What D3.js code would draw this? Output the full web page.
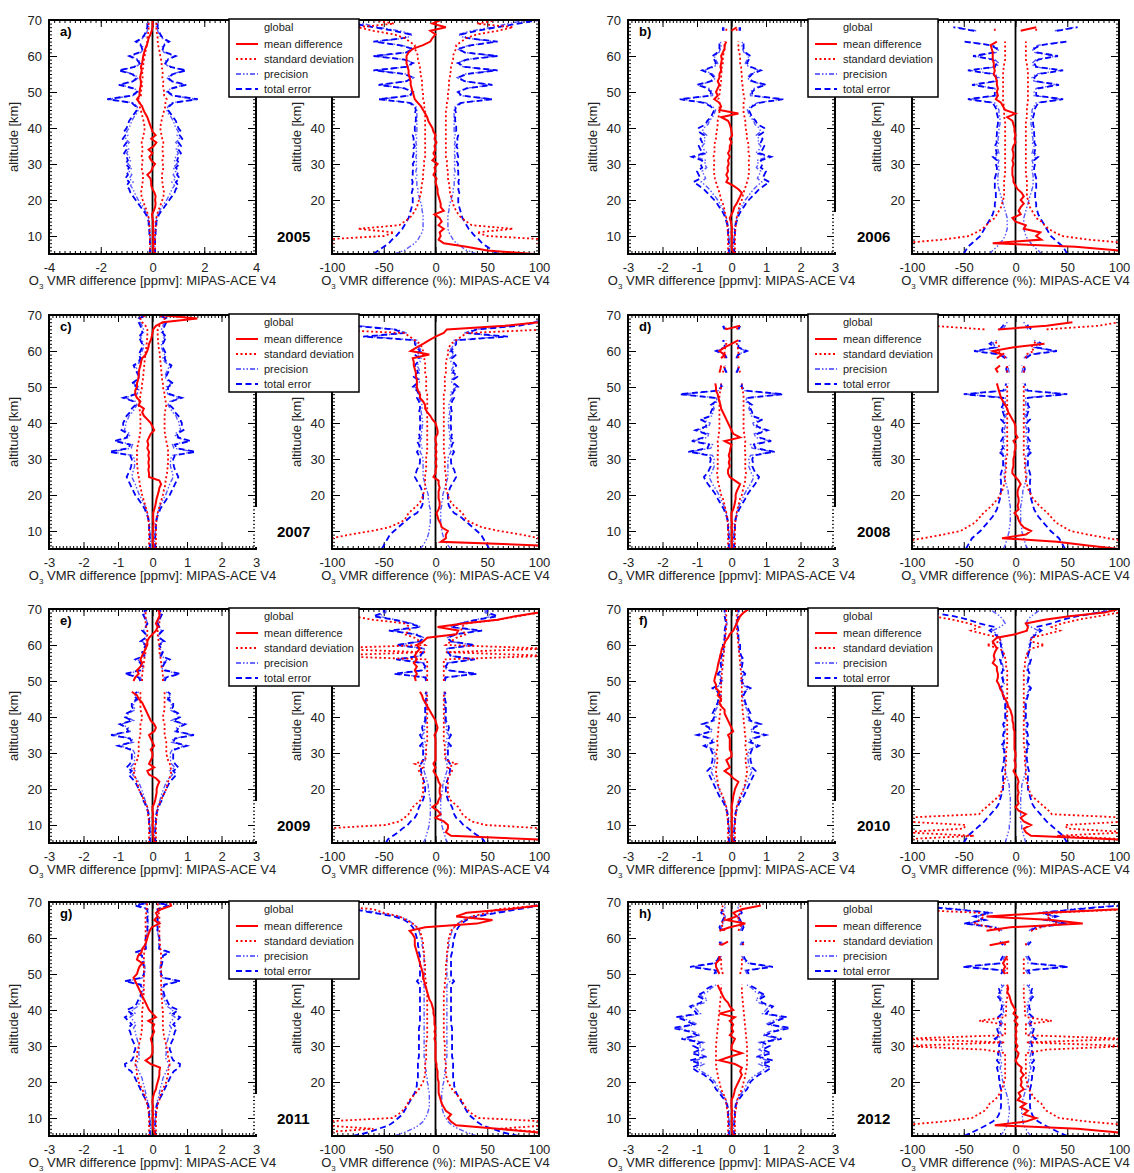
<!DOCTYPE html>
<html><head><meta charset="utf-8">
<script src="https://cdn.jsdelivr.net/npm/d3@7"></script>
<style>body{margin:0;background:#fff}svg{display:block}</style>
</head><body><svg id="chart" width="1134" height="1173"></svg>
<script>
// ---------------- DATA ----------------
const altitudes = [5,6,7,8,9,10,11,12,13,14,15,16,17,18,19,20,21,22,23,24,25,26,27,28,29,30,31,32,33,34,35,36,37,38,39,40,41,42,43,44,45,46,47,48,49,50,51,52,53,54,55,56,57,58,59,60,61,62,63,64,65,66,67,68,69,70];
const panelLetters = ["a)","b)","c)","d)","e)","f)","g)","h)"];
const panelYears = ["2005","2006","2007","2008","2009","2010","2011","2012"];
const absLimits = [4,3,3,3,3,3,3,3];
const absTicksWide = [-4,-2,0,2,4];
const absTicksNarrow = [-3,-2,-1,0,1,2,3];
const relTicks = [-100,-50,0,50,100];
const altTicks = [10,20,30,40,50,60,70];
const altTicksVisibleRight = [20,30,40];
const legendLabels = ["mean difference","standard deviation","precision","total error"];

// panel a (2005)
const aAbsMean=[0.05,0.03,0.02,0.02,0.03,0.02,0.03,0.02,0.02,0.03, 0,-0.02,0.05,0.1,0.12,0.1,0.12,0.08,0,-0.05, -0.05,-0.08,-0.2,-0.05,0,0.1,-0.05,-0.12,0,-0.15, 0.05,0.15,-0.05,0.12,0,-0.05,-0.1,-0.15,-0.2,-0.28, -0.35,-0.4,-0.5,-0.6,-0.5,-0.5,-0.48,-0.45,-0.45,-0.48, -0.45,-0.42,-0.45,-0.4,-0.38,-0.36,-0.32,-0.28,-0.22,-0.18, -0.15,-0.08,-0.03,0,0,0];
const aAbsStd=[0.1,0.1,0.1,0.1,0.1,0.1,0.1,0.12,0.12,0.13, 0.15,0.18,0.22,0.28,0.33,0.38,0.42,0.45,0.42,0.4, 0.38,0.37,0.36,0.4,0.42,0.4,0.38,0.42,0.4,0.38, 0.4,0.42,0.38,0.35,0.32,0.3,0.32,0.35,0.38,0.42, 0.45,0.5,0.5,0.55,0.45,0.45,0.42,0.4,0.42,0.38, 0.4,0.38,0.36,0.35,0.33,0.3,0.28,0.25,0.22,0.2, 0.2,0.18,0.15,0.15,0.15,0.15];
const aAbsPrec=[0.08,0.08,0.08,0.08,0.08,0.1,0.1,0.1,0.12,0.12, 0.15,0.2,0.28,0.35,0.45,0.55,0.62,0.7,0.75,0.85, 0.75,0.9,0.8,0.9,0.8,0.95,0.85,0.9,1.0,0.9, 1.0,0.9,1.05,0.95,1.0,0.9,0.85,0.8,0.72,0.62, 0.55,0.6,0.75,1.7,0.75,0.55,0.7,1.25,0.7,0.55, 0.75,1.25,0.65,0.45,0.55,0.85,0.45,0.35,0.4,0.6, 0.35,0.25,0.2,0.15,0.15,0.12];
const aAbsTot=[0.1,0.1,0.1,0.1,0.1,0.12,0.12,0.13,0.15,0.15, 0.2,0.25,0.35,0.45,0.55,0.65,0.75,0.85,0.9,1.0, 0.9,1.05,0.95,1.0,0.9,1.05,0.95,1.0,1.1,1.0, 1.1,1.0,1.15,1.05,1.1,1.0,0.95,0.9,0.8,0.7, 0.6,0.65,0.8,1.75,0.8,0.6,0.75,1.3,0.75,0.6, 0.8,1.3,0.7,0.5,0.6,0.9,0.5,0.4,0.45,0.65, 0.4,0.3,0.25,0.2,0.2,0.15];
const aRelMean=[95,50,30,8,3,5,4,8,3,6, 4,-1,8,5,5,4,3,2,2,1, 0,1,-2,0,-1,2,-3,0,-2,0, -1,1,-1,0,-2,-3,-5,-7,-8,-10, -12,-14,-17,-20,-21,-22,-23,-24,-24,-25, -26,-26,-27,-28,-28,-28,-26,-22,-12,-5, -3,0,-5,10,-3,5];
const aRelStd=[110,110,110,100,110,50,40,75,35,30, 25,22,20,18,17,16,15,14,14,13, 13,12,12,12,11,11,11,10,10,10, 10,10,10,10,10,10,10,10,10,10, 10,11,11,12,12,12,13,13,13,14, 14,15,15,16,17,17,18,20,20,25, 30,40,60,75,40,60];
const aRelPrec=[40,30,25,20,17,15,13,12,12,12, 12,12,13,13,14,15,16,17,17,18, 18,19,18,19,18,19,18,19,18,19, 18,19,18,19,18,18,18,18,18,18, 18,19,24,54,24,21,29,54,27,21, 29,58,27,21,29,58,27,21,33,58, 28,22,35,55,70,90];
const aRelTot=[60,55,50,45,42,38,35,32,30,28, 26,25,24,23,22,22,22,23,22,23, 22,23,22,22,21,22,20,22,21,22, 20,22,21,22,20,20,20,19,19,20, 19,20,25,55,25,22,30,55,28,22, 30,60,28,22,30,60,28,22,35,60, 30,25,40,60,80,100];

// panel b (2006)
const bAbsMean=[0.1,0.02,0,0.02,0,0.02,0,0.02,0,-0.02, -0.05,0,0.05,0.08,0.15,0.2,0.25,0.3,0.2,0.05, -0.15,-0.1,-0.15,-0.1,-0.12,-0.08,-0.1,-0.05,-0.1,-0.05, -0.05,0,-0.05,0.02,0,-0.02,-0.05,-0.1,-0.3,0.2, -0.35,-0.3,-0.35,-0.5,-0.4,-0.45,-0.4,-0.35,-0.4,-0.35, -0.35,-0.3,-0.32,-0.3,-0.28,-0.3,-0.25,-0.2,-0.2,-0.15, null,null,0.0,0.15,null,null];
const bAbsStd=[0.1,0.1,0.1,0.1,0.1,0.1,0.1,0.12,0.12,0.13, 0.15,0.18,0.2,0.22,0.25,0.3,0.32,0.35,0.38,0.42, 0.45,0.48,0.5,0.5,0.52,0.5,0.5,0.52,0.5,0.48, 0.5,0.48,0.45,0.45,0.42,0.42,0.4,0.4,0.38,0.35, 0.35,0.35,0.35,0.38,0.35,0.35,0.32,0.32,0.3,0.3, 0.3,0.28,0.28,0.25,0.25,0.25,0.22,0.2,0.2,0.2, null,null,0.15,0.15,null,null];
const bAbsPrec=[0.06,0.06,0.06,0.06,0.07,0.08,0.08,0.08,0.1,0.12, 0.15,0.18,0.22,0.28,0.34,0.4,0.48,0.56,0.64,0.75, 0.88,0.75,0.8,0.85,0.72,0.78,0.74,1.05,0.7,0.8, 0.85,0.76,0.8,0.72,0.85,0.8,0.68,0.64,0.55,0.5, 0.46,0.55,0.75,1.45,0.55,0.55,0.65,0.95,0.55,0.46, 0.55,0.8,0.5,0.4,0.46,0.5,0.36,0.32,0.3,0.32, null,null,0.22,0.22,null,null];
const bAbsTot=[0.08,0.08,0.08,0.08,0.08,0.1,0.1,0.1,0.12,0.15, 0.18,0.22,0.28,0.35,0.42,0.5,0.6,0.7,0.8,0.95, 1.1,0.9,0.95,1.0,0.85,0.9,0.85,1.15,0.8,0.9, 0.95,0.85,0.9,0.8,0.95,0.95,0.75,0.7,0.6,0.55, 0.5,0.6,0.8,1.5,0.6,0.6,0.7,1.0,0.6,0.5, 0.6,0.85,0.55,0.45,0.5,0.55,0.4,0.35,0.35,0.35, null,null,0.25,0.25,null,null];
const bRelMean=[100,100,58,-22,25,20,24,8,10,0, -3,5,3,5,8,5,8,6,2,0, -2,-2,-3,-3,-3,-2,-3,-2,-2,-3, -2,0,-1,0,-1,-1,-2,-3,-8,0, -10,-12,-14,-19,-17,-18,-17,-18,-18,-19, -21,-20,-21,-21,-22,-22,-22,-23,-24,-18, null,null,5,20,null,null];
const bRelStd=[110,110,110,110,70,45,38,32,28,25, 20,18,16,14,13,12,11,11,11,11, 11,11,10,10,10,10,10,10,10,10, 10,10,10,10,10,10,10,10,11,11, 11,11,12,12,12,12,12,12,12,12, 12,12,11,11,10,10,10,10,10,10, null,null,20,20,null,null];
const bRelPrec=[25,22,18,15,12,10,9,8,8,8, 8,9,10,11,12,13,14,15,16,17, 17,17,17,16,16,17,16,20,16,17, 18,16,17,16,16,16,15,15,15,16, 16,18,20,44,18,18,20,40,18,16, 20,44,18,16,20,39,18,16,22,48, null,null,38,58,null,null];
const bRelTot=[50,48,46,42,38,34,32,30,28,26, 24,22,21,20,20,19,19,19,20,20, 20,20,19,18,18,19,18,22,18,19, 20,18,19,18,18,18,17,17,17,18, 18,20,22,46,20,20,22,42,20,18, 22,46,20,18,22,41,20,18,24,50, null,null,40,60,null,null];

// panel c (2007)
const cAbsMean=[0.02,0.03,0,0.02,0,0.02,0.02,0.03,0.02,0.02, 0.02,0.05,0.08,0.1,0.12,0.15,0.18,0.2,0.25,0.2, -0.1,-0.1,-0.12,-0.1,-0.12,-0.1,-0.12,-0.1,-0.15,-0.12, -0.15,-0.1,-0.05,0.05,0,-0.05,-0.15,-0.25,-0.3,-0.25, -0.4,-0.35,-0.45,-0.5,-0.5,-0.45,-0.45,-0.42,-0.4,-0.4, -0.38,-0.35,-0.33,-0.3,-0.2,-0.15,-0.12,-0.1,-0.05,-0.02, 0,0.02,0.1,0.3,1.3,0.2];
const cAbsStd=[0.1,0.1,0.1,0.1,0.1,0.1,0.1,0.1,0.12,0.13, 0.15,0.18,0.2,0.24,0.27,0.3,0.32,0.35,0.37,0.38, 0.4,0.42,0.43,0.44,0.45,0.45,0.45,0.45,0.45,0.42, 0.4,0.38,0.36,0.35,0.35,0.35,0.35,0.35,0.36,0.38, 0.4,0.38,0.36,0.35,0.33,0.3,0.3,0.28,0.27,0.26, 0.25,0.24,0.23,0.22,0.21,0.2,0.18,0.17,0.16,0.15, 0.15,0.15,0.2,0.3,0.35,0.2];
const cAbsPrec=[0.06,0.06,0.06,0.06,0.07,0.08,0.08,0.08,0.1,0.12, 0.15,0.18,0.22,0.27,0.32,0.38,0.42,0.46,0.5,0.55, 0.6,0.58,0.55,0.52,0.52,0.52,0.58,1.2,0.62,0.58, 1.05,0.68,0.65,0.82,0.78,0.78,0.72,0.68,0.58,0.52, 0.45,0.5,0.8,0.45,0.4,0.4,0.55,0.4,0.36,0.4, 0.45,0.5,0.35,0.3,0.35,0.3,0.26,0.26,0.3,0.35, 0.26,0.26,0.3,0.35,0.35,0.18];
const cAbsTot=[0.08,0.08,0.08,0.08,0.08,0.1,0.1,0.1,0.12,0.14, 0.18,0.22,0.28,0.35,0.42,0.5,0.55,0.6,0.65,0.7, 0.75,0.7,0.65,0.62,0.6,0.6,0.65,1.25,0.7,0.65, 1.1,0.75,0.7,0.9,0.85,0.85,0.8,0.75,0.65,0.6, 0.5,0.55,0.85,0.5,0.45,0.45,0.6,0.45,0.4,0.45, 0.5,0.55,0.4,0.35,0.4,0.35,0.3,0.3,0.35,0.4, 0.3,0.3,0.35,0.4,0.4,0.2];
const cRelMean=[100,100,5,10,10,12,6,5,3,2, 1,3,4,4,3,3,3,4,3,3, -2,0,0,1,0,1,0,1,0,1, 0,0,2,2,1,0,-3,-5,-8,-10, -10,-12,-15,-15,-17,-18,-18,-18,-19,-19, -20,-21,-21,-22,-6,-24,-18,-12,-6,0, 8,11,67,100,100,100];
const cRelStd=[110,110,110,100,83,62,45,37,30,28, 26,22,18,15,13,12,11,10,10,10, 10,10,9,9,9,9,9,8,8,8, 8,8,8,8,8,8,8,8,8,8, 8,8,8,8,9,9,9,9,9,10, 10,10,10,11,12,12,13,15,20,25, 30,110,110,110,110,110];
const cRelPrec=[15,12,10,8,7,6,6,5,5,5, 5,5,6,6,7,7,8,9,10,11, 12,12,12,12,12,12,13,15,13,14, 15,13,14,13,13,12,13,13,14,13, 13,14,16,14,16,20,16,15,20,15, 16,18,15,14,18,13,16,18,18,65, 28,38,75,95,105,105];
const cRelTot=[52,50,48,46,44,40,36,32,28,24, 18,15,13,12,12,12,13,14,16,18, 20,19,18,16,15,15,16,18,15,16, 18,15,16,15,15,14,15,15,16,15, 15,16,18,16,18,22,18,17,22,17, 18,20,17,16,20,15,18,20,20,70, 30,40,80,100,110,110];

// panel d (2008)
const dAbsMean=[0,0.02,0,0.02,0,0.02,0,0.02,0,0, 0,0.05,0.08,0.1,0.12,0.12,0.15,0.2,0.25,0.1, -0.05,-0.1,-0.1,-0.05,-0.08,-0.05,-0.08,-0.05,-0.03,0, -0.2,0.25,0.05,0,-0.05,-0.1,-0.15,-0.2,-0.25,-0.3, -0.32,-0.35,-0.38,-0.4,-0.45,-0.45,-0.47,null,null,-0.35, -0.32,-0.3,null,-0.3,-0.2,-0.35,-0.2,0,0.2,null, null,-0.17,0.25,null,null,null];
const dAbsStd=[0.1,0.1,0.1,0.1,0.1,0.1,0.1,0.1,0.12,0.13, 0.15,0.17,0.2,0.22,0.25,0.3,0.32,0.35,0.37,0.4, 0.4,0.42,0.4,0.4,0.4,0.4,0.4,0.4,0.38,0.4, 0.4,0.38,0.37,0.35,0.35,0.35,0.35,0.35,0.35,0.35, 0.35,0.35,0.35,0.35,0.32,0.3,0.3,null,null,0.25, 0.22,0.2,null,0.2,0.2,0.2,0.18,0.15,0.15,null, null,0.15,0.2,null,null,null];
const dAbsPrec=[0.06,0.06,0.06,0.06,0.07,0.08,0.08,0.08,0.1,0.12, 0.15,0.18,0.22,0.27,0.32,0.36,0.42,0.48,0.55,0.6, 0.65,0.58,0.54,0.5,0.52,0.5,0.55,1.2,0.6,0.55, 1.1,0.7,0.66,1.0,0.66,0.62,0.85,0.55,0.55,0.5, 0.55,0.4,0.45,1.45,0.35,0.26,0.26,null,null,0.13, 0.18,0.18,null,0.13,0.18,0.42,0.18,0.18,0.22,null, null,0.18,0.22,null,null,null];
const dAbsTot=[0.08,0.08,0.08,0.08,0.08,0.1,0.1,0.1,0.12,0.14, 0.18,0.22,0.28,0.34,0.4,0.45,0.52,0.6,0.68,0.75, 0.8,0.7,0.65,0.6,0.62,0.6,0.65,1.25,0.7,0.65, 1.15,0.8,0.75,1.05,0.75,0.7,0.9,0.6,0.6,0.55, 0.6,0.45,0.5,1.5,0.4,0.3,0.3,null,null,0.15, 0.2,0.2,null,0.15,0.2,0.45,0.2,0.2,0.25,null, null,0.2,0.25,null,null,null];
const dRelMean=[100,70,40,-13,10,15,8,5,3,2, -1,3,2,3,3,2,2,3,5,3, 0,-3,-3,-2,-2,-2,-1,-1,0,0, -2,2,0,0,0,-1,-3,-5,-7,-8, -10,-12,-14,-15,-16,-17,-18,null,null,-17, -19,-15,null,-18,-13,-22,-3,28,null,null, null,-17,30,55,null,null];
const dRelStd=[110,110,110,89,70,53,47,41,37,34, 31,27,23,20,17,15,13,12,11,10, 10,10,9,9,9,9,8,8,8,8, 8,8,8,8,8,8,8,8,8,8, 8,8,8,8,8,8,8,null,null,8, 8,8,null,10,10,18,15,18,20,null, null,30,80,100,null,null];
const dRelPrec=[12,10,9,8,7,6,6,5,5,5, 5,5,5,6,6,7,7,8,9,10, 11,11,10,10,10,10,10,14,10,11, 12,10,10,11,10,9,12,9,10,12, 10,10,10,48,10,8,7,null,null,6, 7,6,null,8,12,38,18,22,18,null, null,12,10,8,null,null];
const dRelTot=[48,46,44,42,38,34,31,28,25,22, 20,18,17,16,15,15,14,14,14,14, 15,14,13,12,12,12,12,16,12,13, 14,12,12,13,12,11,14,11,12,14, 12,12,12,50,12,10,9,null,null,8, 9,8,null,10,15,40,20,25,20,null, null,15,12,10,null,null];

// panel e (2009)
const eAbsMean=[0.05,0.03,0.02,0,0.02,0,0.02,0,0.02,0, 0,0.05,0.08,0.1,0.12,0.12,0.15,0.2,0.1,-0.1, -0.15,0.05,-0.1,-0.05,0,0,-0.05,0.05,0,-0.05, -0.1,0.05,0.1,0.05,-0.05,-0.1,-0.15,-0.2,-0.25,-0.3, -0.4,-0.45,-0.6,null,null,-0.55,-0.5,-0.4,-0.45,-0.35, -0.3,-0.35,-0.3,-0.25,-0.2,-0.15,-0.15,-0.1,0,0.1, 0.15,0.1,0.15,0.2,0.2,0.15];
const eAbsStd=[0.1,0.1,0.1,0.1,0.1,0.1,0.1,0.12,0.13,0.14, 0.15,0.2,0.25,0.3,0.35,0.4,0.42,0.45,0.5,0.52, 0.55,0.52,0.5,0.45,0.42,0.4,0.4,0.4,0.4,0.38, 0.35,0.35,0.35,0.35,0.32,0.3,0.32,0.35,0.35,0.35, 0.35,0.35,0.35,null,null,0.3,0.3,0.3,0.28,0.26, 0.25,0.24,0.22,0.2,0.2,0.2,0.18,0.16,0.15,0.15, 0.18,0.2,0.2,0.2,0.2,0.2];
const eAbsPrec=[0.06,0.06,0.06,0.06,0.07,0.08,0.08,0.08,0.1,0.12, 0.15,0.18,0.22,0.25,0.28,0.32,0.36,0.4,0.48,0.58, 0.5,0.65,0.55,0.52,0.52,0.52,0.58,0.95,0.55,0.6, 1.15,0.65,0.7,0.9,0.55,0.75,0.7,0.5,0.55,0.55, 0.4,0.5,0.4,null,null,0.3,0.35,0.75,0.3,0.26, 0.3,0.45,0.22,0.26,0.22,0.18,0.3,0.18,0.18,0.26, 0.18,0.13,0.18,0.22,0.26,0.13];
const eAbsTot=[0.08,0.08,0.08,0.08,0.08,0.1,0.1,0.1,0.12,0.14, 0.18,0.22,0.28,0.3,0.35,0.4,0.45,0.5,0.6,0.7, 0.6,0.75,0.65,0.6,0.6,0.6,0.65,1.0,0.6,0.65, 1.2,0.7,0.75,0.95,0.6,0.8,0.75,0.55,0.6,0.6, 0.45,0.55,0.45,null,null,0.35,0.4,0.8,0.35,0.3, 0.35,0.5,0.25,0.3,0.25,0.2,0.35,0.2,0.2,0.3, 0.2,0.15,0.2,0.25,0.3,0.15];
const eRelMean=[100,100,15,10,12,12,8,0,5,2, -3,2,3,5,4,4,5,3,2,0, -2,0,-2,0,0,0,0,0,0,0, -1,1,2,1,0,-2,-4,-6,-8,-10, -12,-13,-15,null,null,-19,-20,-18,-20,-18, -21,-18,-20,-18,-15,-18,-12,-8,20,22, 2,27,60,77,100,100];
const eRelStd=[110,110,110,110,110,48,35,30,26,24, 22,18,14,13,12,12,12,12,12,14, 16,12,20,10,9,9,9,9,8,8, 8,8,8,8,8,8,8,8,8,8, 8,8,9,null,null,8,8,8,8,8, 8,8,110,10,110,10,15,20,30,25, 25,30,60,80,100,110];
const eRelPrec=[12,10,9,8,7,6,6,5,5,5, 5,5,5,6,6,7,7,8,9,10, 11,11,11,10,10,10,10,13,10,11, 13,10,11,10,9,9,9,9,9,9, 8,9,8,null,null,8,9,38,11,9, 11,36,14,11,11,36,14,11,18,42, 14,23,38,55,48,48];
const eRelTot=[48,46,41,36,32,27,24,20,18,17, 16,14,12,11,10,10,10,11,12,13, 14,14,14,12,12,12,12,15,12,13, 15,12,13,12,10,10,10,10,10,10, 9,10,9,null,null,9,10,40,12,10, 12,38,15,12,12,38,15,12,20,45, 15,25,40,60,50,50];

// panel f (2010)
const fAbsMean=[0.05,0.02,0,0.02,0,0.02,0,0.02,0,0.02, 0,0.02,0.04,0.05,0.08,0.1,0.15,0.2,0.05,-0.05, -0.2,-0.05,-0.1,-0.15,0,0,-0.05,-0.05,-0.05,-0.05, -0.1,0.05,0,-0.05,-0.1,-0.15,-0.2,-0.2,-0.3,-0.35, -0.3,-0.4,-0.35,-0.45,-0.45,-0.5,-0.48,-0.45,-0.42,-0.4, -0.38,-0.35,-0.33,-0.3,-0.28,-0.22,-0.18,-0.1,-0.05,0.05, 0.1,0.15,0.2,0.25,0.35,0.5];
const fAbsStd=[0.1,0.1,0.1,0.1,0.1,0.1,0.1,0.12,0.13,0.14, 0.15,0.18,0.22,0.25,0.3,0.35,0.38,0.4,0.42,0.44, 0.45,0.44,0.42,0.4,0.42,0.45,0.42,0.4,0.42,0.4, 0.4,0.38,0.38,0.36,0.35,0.35,0.33,0.32,0.32,0.3, 0.3,0.3,0.3,0.3,0.3,0.3,0.28,0.28,0.27,0.26, 0.25,0.24,0.23,0.22,0.21,0.2,0.19,0.18,0.17,0.16, 0.15,0.15,0.15,0.15,0.15,0.15];
const fAbsPrec=[0.06,0.06,0.06,0.06,0.07,0.08,0.08,0.08,0.1,0.12, 0.15,0.18,0.22,0.28,0.32,0.36,0.4,0.45,0.5,0.55, 0.6,0.52,0.5,0.48,0.48,0.48,0.52,0.75,0.5,0.55, 0.95,0.55,0.6,0.8,0.5,0.45,0.5,0.45,0.4,0.36, 0.34,0.3,0.36,0.5,0.3,0.26,0.3,0.36,0.26,0.26, 0.28,0.3,0.24,0.22,0.22,0.22,0.2,0.18,0.18,0.18, 0.16,0.13,0.16,0.18,0.18,0.18];
const fAbsTot=[0.08,0.08,0.08,0.08,0.08,0.1,0.1,0.1,0.12,0.14, 0.18,0.22,0.28,0.35,0.4,0.45,0.5,0.55,0.6,0.65, 0.7,0.6,0.58,0.55,0.55,0.55,0.6,0.8,0.55,0.6, 1.0,0.6,0.65,0.85,0.55,0.5,0.55,0.5,0.45,0.4, 0.38,0.35,0.4,0.55,0.35,0.3,0.35,0.4,0.3,0.3, 0.32,0.35,0.28,0.25,0.25,0.25,0.22,0.2,0.2,0.2, 0.18,0.15,0.18,0.2,0.2,0.2];
const fRelMean=[100,100,15,10,8,15,8,5,10,3, 0,3,2,2,3,2,2,3,2,0, -2,0,0,-1,0,0,-1,-1,-1,-1, -1,-1,-2,-2,-3,-3,-4,-5,-7,-8, -10,-12,-13,-15,-16,-18,-17,-17,-18,-18, -22,-20,-21,-20,-18,-20,-22,-18,0,11, 12,10,28,52,86,100];
const fRelStd=[110,110,40,110,50,48,110,110,35,32, 28,24,20,16,14,13,12,11,10,10, 10,10,9,9,9,9,9,8,8,8, 8,8,8,8,8,8,8,8,8,8, 8,8,8,8,8,8,8,8,8,9, 9,10,10,12,15,28,15,15,30,43, 35,45,60,80,100,110];
const fRelPrec=[10,9,8,7,6,6,5,5,5,5, 5,5,5,5,6,6,6,7,8,9, 10,10,10,10,10,10,10,12,10,11, 11,10,10,11,9,9,9,9,9,9, 10,11,12,14,11,11,12,13,11,12, 13,14,11,12,13,13,14,15,18,22, 15,10,12,15,20,25];
const fRelTot=[50,48,46,42,38,34,30,27,24,21, 18,16,15,14,13,12,12,12,12,12, 13,12,12,11,11,11,11,14,11,12, 12,11,11,12,10,10,10,10,10,10, 11,12,13,15,12,12,13,14,12,13, 14,15,12,13,14,14,15,16,20,25, 20,35,45,60,80,100];

// panel g (2011)
const gAbsMean=[0.1,0.05,0.02,0,0.02,0,0.02,0,0.02,0, 0,0.02,0.05,0.1,0.12,0.15,0.18,0.2,0.2,0.22, -0.05,-0.2,-0.05,0,0,0,-0.02,-0.05,0,0.05, 0,0.05,-0.12,0.1,0,-0.1,-0.15,-0.2,-0.25,-0.3, -0.35,-0.4,-0.45,-0.5,-0.55,-0.45,-0.42,-0.38,-0.3,-0.45, -0.42,-0.32,-0.3,-0.22,-0.18,-0.15,-0.12,-0.08,-0.02,0.2, 0.05,0.15,0.1,0.25,0.54,0.5];
const gAbsStd=[0.1,0.1,0.1,0.1,0.1,0.1,0.1,0.12,0.14,0.16, 0.2,0.22,0.25,0.3,0.35,0.4,0.42,0.45,0.45,0.48, 0.5,0.48,0.45,0.45,0.42,0.4,0.38,0.35,0.33,0.32, 0.3,0.3,0.3,0.3,0.3,0.3,0.28,0.28,0.27,0.26, 0.25,0.25,0.25,0.25,0.25,0.25,0.25,0.25,0.25,0.25, 0.25,0.24,0.23,0.22,0.21,0.2,0.2,0.2,0.2,0.2, 0.2,0.2,0.18,0.17,0.16,0.15];
const gAbsPrec=[0.06,0.06,0.06,0.06,0.07,0.08,0.08,0.08,0.1,0.12, 0.15,0.18,0.2,0.22,0.25,0.28,0.3,0.35,0.4,0.45, 0.5,0.4,0.38,0.4,0.38,0.38,0.42,0.45,0.48,0.5, 0.55,0.48,0.55,0.65,0.5,0.6,0.42,0.38,0.34,0.3, 0.28,0.26,0.3,0.75,0.26,0.22,0.22,0.22,0.24,0.26, 0.26,0.45,0.18,0.18,0.18,0.18,0.16,0.13,0.13,0.13, 0.13,0.13,0.13,0.13,0.4,0.08];
const gAbsTot=[0.08,0.08,0.08,0.08,0.08,0.1,0.1,0.1,0.12,0.14, 0.18,0.25,0.3,0.35,0.4,0.45,0.5,0.55,0.62,0.78, 0.8,0.6,0.55,0.55,0.5,0.5,0.55,0.6,0.62,0.65, 0.7,0.6,0.7,0.8,0.6,0.75,0.5,0.45,0.4,0.35, 0.32,0.3,0.35,0.8,0.3,0.25,0.25,0.25,0.28,0.3, 0.3,0.5,0.2,0.2,0.2,0.2,0.18,0.15,0.15,0.15, 0.15,0.15,0.15,0.15,0.5,0.1];
const gRelMean=[100,100,60,20,15,12,15,10,8,6, 5,4,3,3,3,3,2,2,2,1, 1,0,0,0,0,0,0,-1,0,-1, 0,-1,-1,-1,-2,-2,-3,-4,-6,-7, -8,-9,-10,-11,-12,-12,-13,-14,-15,-16, -17,-18,-19,-20,-20,-20,-22,-25,-10,40, 55,20,30,70,100,100];
const gRelStd=[110,110,60,110,110,42,36,32,29,27, 25,22,19,16,14,12,11,10,10,10, 10,9,9,9,9,9,9,8,8,8, 8,8,8,8,8,8,8,8,8,8, 8,9,9,9,10,10,10,10,10,11, 11,11,12,12,12,13,14,15,18,22, 28,35,50,60,100,110];
const gRelPrec=[40,30,22,16,12,10,8,7,6,6, 6,6,6,7,7,8,8,9,9,10, 10,10,11,11,11,11,11,11,11,11, 11,11,11,11,11,11,11,11,11,11, 11,11,11,14,11,11,11,11,11,11, 11,12,12,13,13,14,15,16,18,22, 26,35,55,75,95,105];
const gRelTot=[80,65,55,45,40,36,32,30,28,26, 24,22,20,19,18,18,17,17,17,17, 17,17,16,16,16,16,16,16,16,16, 16,15,15,15,15,15,15,15,15,15, 15,15,15,18,15,15,15,15,15,15, 15,16,16,17,17,18,19,20,22,25, 30,40,60,80,100,110];

// panel h (2012)
const hAbsMean=[0.05,0.02,0,0.02,0,0.02,0,0.02,0,0, 0,0.05,0.08,0.1,0.15,0.2,0.25,0.3,0.25,0.3, 0.1,-0.35,-0.05,0.3,0,0,0.05,0.1,-0.05,0.05, 0,0.05,-0.05,0.1,-0.35,0.05,-0.05,-0.1,-0.2,-0.26, -0.3,-0.36,-0.4,null,null,-0.35,-0.4,-0.45,-0.45,-0.35, -0.35,null,null,-0.3,-0.1,null,null,-0.35,-0.05,0.4, -0.15,0.15,0.05,0.3,0.85,null];
const hAbsStd=[0.1,0.1,0.1,0.1,0.1,0.1,0.1,0.12,0.14,0.15, 0.17,0.2,0.25,0.3,0.33,0.35,0.38,0.4,0.42,0.44, 0.45,0.45,0.45,0.45,0.45,0.45,0.44,0.43,0.42,0.41, 0.4,0.39,0.38,0.37,0.36,0.35,0.34,0.33,0.32,0.31, 0.3,0.3,0.3,null,null,0.25,0.28,0.3,0.3,0.3, 0.3,null,null,0.35,0.3,null,null,0.2,0.25,0.3, 0.2,0.2,0.25,0.3,0.25,null];
const hAbsPrec=[0.06,0.06,0.06,0.06,0.07,0.08,0.08,0.08,0.1,0.12, 0.16,0.22,0.3,0.38,0.42,0.48,0.56,0.7,0.88,1.0, 0.8,1.05,0.7,1.0,0.8,0.95,0.8,1.35,0.9,1.1, 1.6,1.0,1.2,1.5,0.9,1.0,1.1,0.8,0.7,0.9, 0.7,0.6,0.45,null,null,0.45,0.4,1.1,0.45,0.35, 0.3,null,null,0.25,0.3,null,null,0.25,0.3,0.25, 0.2,0.18,0.25,0.2,0.18,null];
const hAbsTot=[0.08,0.08,0.08,0.08,0.08,0.1,0.1,0.1,0.12,0.14, 0.2,0.28,0.36,0.45,0.5,0.55,0.65,0.8,1.0,1.15, 0.9,1.2,0.8,1.15,0.9,1.1,0.9,1.45,1.0,1.2, 1.7,1.1,1.3,1.6,1.0,1.1,1.2,0.9,0.8,1.0, 0.8,0.7,0.5,null,null,0.5,0.45,1.2,0.5,0.4, 0.35,null,null,0.3,0.35,null,null,0.3,0.35,0.3, 0.25,0.2,0.3,0.25,0.2,null];
const hRelMean=[100,100,60,-20,10,20,8,12,5,10, 2,5,3,8,5,6,5,8,5,6, 2,0,2,3,0,2,0,1,0,1, 0,2,-1,2,-2,0,-2,-4,-5,-6, -8,-7,-8,null,null,-10,-12,-10,-12,-10, -8,null,null,-25,-6,null,null,-28,-5,65, 35,-28,30,100,100,null];
const hRelStd=[110,110,110,110,70,42,36,30,27,25, 20,17,15,13,12,11,10,10,10,10, 10,10,10,10,30,110,10,110,10,10, 10,10,35,10,9,9,9,9,8,8, 8,8,8,null,null,8,8,8,8,8, 8,null,null,10,10,null,null,15,25,40, 35,30,35,110,110,null];
const hRelPrec=[15,12,10,8,7,7,6,6,6,7, 7,8,9,10,11,12,13,13,14,15, 13,15,14,15,13,14,13,18,13,15, 16,12,14,15,11,12,11,12,13,16, 13,14,11,null,null,12,10,48,12,12, 10,null,null,10,13,null,null,13,18,48, 28,38,22,55,95,null];
const hRelTot=[50,42,35,28,22,18,16,15,14,14, 14,14,14,14,15,15,16,16,17,18, 15,18,16,17,15,16,15,20,15,17, 18,14,16,17,13,14,13,14,15,18, 15,16,13,null,null,14,12,51,14,14, 12,null,null,12,15,null,null,15,20,50, 30,40,25,60,100,null];

// ---------------- LAYOUT ----------------
const absSets = [[aAbsMean,aAbsStd,aAbsPrec,aAbsTot],[bAbsMean,bAbsStd,bAbsPrec,bAbsTot],[cAbsMean,cAbsStd,cAbsPrec,cAbsTot],[dAbsMean,dAbsStd,dAbsPrec,dAbsTot],[eAbsMean,eAbsStd,eAbsPrec,eAbsTot],[fAbsMean,fAbsStd,fAbsPrec,fAbsTot],[gAbsMean,gAbsStd,gAbsPrec,gAbsTot],[hAbsMean,hAbsStd,hAbsPrec,hAbsTot]];
const relSets = [[aRelMean,aRelStd,aRelPrec,aRelTot],[bRelMean,bRelStd,bRelPrec,bRelTot],[cRelMean,cRelStd,cRelPrec,cRelTot],[dRelMean,dRelStd,dRelPrec,dRelTot],[eRelMean,eRelStd,eRelPrec,eRelTot],[fRelMean,fRelStd,fRelPrec,fRelTot],[gRelMean,gRelStd,gRelPrec,gRelTot],[hRelMean,hRelStd,hRelPrec,hRelTot]];

const FONT = "'Liberation Sans', Arial, Helvetica, sans-serif";
const PW = 207, PH = 234;
const rowTop = [20, 315, 609, 902];
const colLeft = [49, 628];
const colRight = [332, 912];
const RED = "#ff0000", BLUE = "#0000ff", PBLUE = "#3a3aff";

const svg = d3.select("#chart");
let clipId = 0;

function styleAxis(g, showText) {
  g.select(".domain").remove();
  g.selectAll(".tick line").attr("stroke", "#000").attr("stroke-width", 1);
  g.selectAll("text").attr("font-family", FONT).attr("font-size", "13px").attr("fill", "#222");
  if (!showText) g.selectAll("text").remove();
}

function drawPlot(x0, y0, lim, major, minorStep, sets, unitText, yLabelTicks) {
  const x = d3.scaleLinear().domain([-lim, lim]).range([x0, x0 + PW]);
  const y = d3.scaleLinear().domain([5, 70]).range([y0 + PH, y0]);
  const g = svg.append("g");
  const cid = "clip" + (clipId++);
  g.append("clipPath").attr("id", cid).append("rect")
    .attr("x", x0).attr("y", y0).attr("width", PW).attr("height", PH);
  const minor = d3.range(-lim, lim + 1e-9, minorStep);
  const minorY = d3.range(5, 70.001, 1);

  const bMinor = g.append("g").attr("transform", `translate(0,${y0+PH})`).call(d3.axisBottom(x).tickValues(minor).tickSize(-3).tickFormat(""));
  styleAxis(bMinor, false);
  const bMajor = g.append("g").attr("transform", `translate(0,${y0+PH})`).call(d3.axisBottom(x).tickValues(major).tickSize(-7).tickPadding(9).tickFormat(d => d));
  styleAxis(bMajor, true);
  const tMinor = g.append("g").attr("transform", `translate(0,${y0})`).call(d3.axisTop(x).tickValues(minor).tickSize(-3).tickFormat(""));
  styleAxis(tMinor, false);
  const tMajor = g.append("g").attr("transform", `translate(0,${y0})`).call(d3.axisTop(x).tickValues(major).tickSize(-7).tickFormat(""));
  styleAxis(tMajor, false);
  const lMinor = g.append("g").attr("transform", `translate(${x0},0)`).call(d3.axisLeft(y).tickValues(minorY).tickSize(-3).tickFormat(""));
  styleAxis(lMinor, false);
  const lMajor = g.append("g").attr("transform", `translate(${x0},0)`).call(d3.axisLeft(y).tickValues(altTicks).tickSize(-8).tickFormat(""));
  styleAxis(lMajor, false);
  const lLab = g.append("g").attr("transform", `translate(${x0},0)`).call(d3.axisLeft(y).tickValues(yLabelTicks).tickSize(0).tickPadding(7));
  styleAxis(lLab, true);
  lLab.selectAll(".tick line").remove();
  const rMinor = g.append("g").attr("transform", `translate(${x0+PW},0)`).call(d3.axisRight(y).tickValues(minorY).tickSize(-3).tickFormat(""));
  styleAxis(rMinor, false);
  const rMajor = g.append("g").attr("transform", `translate(${x0+PW},0)`).call(d3.axisRight(y).tickValues(altTicks).tickSize(-8).tickFormat(""));
  styleAxis(rMajor, false);

  const data = g.append("g").attr("clip-path", `url(#${cid})`);
  const line = d3.line().defined(d => d[0] != null).x(d => x(d[0])).y(d => y(d[1]));
  const prof = (vals, s) => altitudes.map((a, i) => [vals[i] == null ? null : s * vals[i], a]);
  const [mean, std, prec, tot] = sets;
  [1, -1].forEach(s => {
    data.append("path").attr("d", line(prof(prec, s))).attr("fill", "none")
      .attr("stroke", PBLUE).attr("stroke-width", 1.4).attr("stroke-dasharray", "5,2,1.5,2,1.5,2").attr("opacity", 0.85);
  });
  [1, -1].forEach(s => {
    data.append("path").attr("d", line(prof(tot, s))).attr("fill", "none")
      .attr("stroke", BLUE).attr("stroke-width", 1.8).attr("stroke-dasharray", "6,3.5");
  });
  [1, -1].forEach(s => {
    data.append("path").attr("d", line(prof(std, s))).attr("fill", "none")
      .attr("stroke", RED).attr("stroke-width", 1.8).attr("stroke-dasharray", "2,2.5");
  });
  data.append("line").attr("x1", x(0)).attr("x2", x(0)).attr("y1", y0).attr("y2", y0 + PH)
    .attr("stroke", "#000").attr("stroke-width", 1.8);
  data.append("path").attr("d", line(prof(mean, 1))).attr("fill", "none")
    .attr("stroke", RED).attr("stroke-width", 2);

  g.append("rect").attr("x", x0).attr("y", y0).attr("width", PW).attr("height", PH)
    .attr("fill", "none").attr("stroke", "#000").attr("stroke-width", 2);

  g.append("text").attr("transform", `translate(${x0-31},${y0+PH/2}) rotate(-90)`)
    .attr("text-anchor", "middle").attr("font-family", FONT).attr("font-size", "13px").attr("fill", "#222")
    .text("altitude [km]");
  const t = g.append("text").attr("x", x0 + PW / 2).attr("y", y0 + PH + 31)
    .attr("text-anchor", "middle").attr("font-family", FONT).attr("font-size", "13px").attr("fill", "#222");
  t.append("tspan").text("O");
  t.append("tspan").attr("font-size", "8px").attr("dy", 4).text("3");
  t.append("tspan").attr("dy", -4).text(" VMR difference " + unitText + ": MIPAS-ACE V4");
}

function drawLegend(lx, ly) {
  const g = svg.append("g");
  g.append("rect").attr("x", lx).attr("y", ly).attr("width", 130).attr("height", 78)
    .attr("fill", "#fff").attr("stroke", "#000").attr("stroke-width", 1.5);
  const tx = lx + 35;
  g.append("text").attr("x", tx).attr("y", ly + 12).attr("font-family", FONT).attr("font-size", "11px").attr("fill", "#222").text("global");
  const styles = [
    {c: RED, w: 2, d: null},
    {c: RED, w: 1.8, d: "2,2.5"},
    {c: PBLUE, w: 1.4, d: "5,2,1.5,2,1.5,2"},
    {c: BLUE, w: 1.8, d: "6,3.5"}
  ];
  legendLabels.forEach((lab, k) => {
    const by = ly + 29 + k * 15;
    g.append("line").attr("x1", lx + 7).attr("x2", lx + 29).attr("y1", by - 4).attr("y2", by - 4)
      .attr("stroke", styles[k].c).attr("stroke-width", styles[k].w).attr("stroke-dasharray", styles[k].d);
    g.append("text").attr("x", tx).attr("y", by).attr("font-family", FONT).attr("font-size", "11px").attr("fill", "#222").text(lab);
  });
}

for (let i = 0; i < 8; i++) {
  const col = i % 2, row = Math.floor(i / 2);
  const y0 = rowTop[row], xl = colLeft[col], xr = colRight[col];
  const lim = absLimits[i];
  drawPlot(xl, y0, lim, lim === 4 ? absTicksWide : absTicksNarrow, lim === 4 ? 0.2 : 0.1, absSets[i], "[ppmv]", altTicks);
  drawPlot(xr, y0, 100, relTicks, 5, relSets[i], "(%)", altTicksVisibleRight);
  svg.append("text").attr("x", xl + 11).attr("y", y0 + 16).attr("font-family", FONT)
    .attr("font-size", "13px").attr("font-weight", "bold").attr("fill", "#000").text(panelLetters[i]);
  const bx = xl + (i === 0 ? 210 : 206);
  svg.append("rect").attr("x", bx).attr("y", y0 + 192).attr("width", xr - 3 - bx).attr("height", 40).attr("fill", "#fff");
  svg.append("text").attr("x", xr - 55).attr("y", y0 + 222).attr("font-family", FONT)
    .attr("font-size", "15px").attr("font-weight", "bold").attr("fill", "#000").text(panelYears[i]);
  drawLegend(xl + 180, y0 - 1);
}
</script>
</body></html>
